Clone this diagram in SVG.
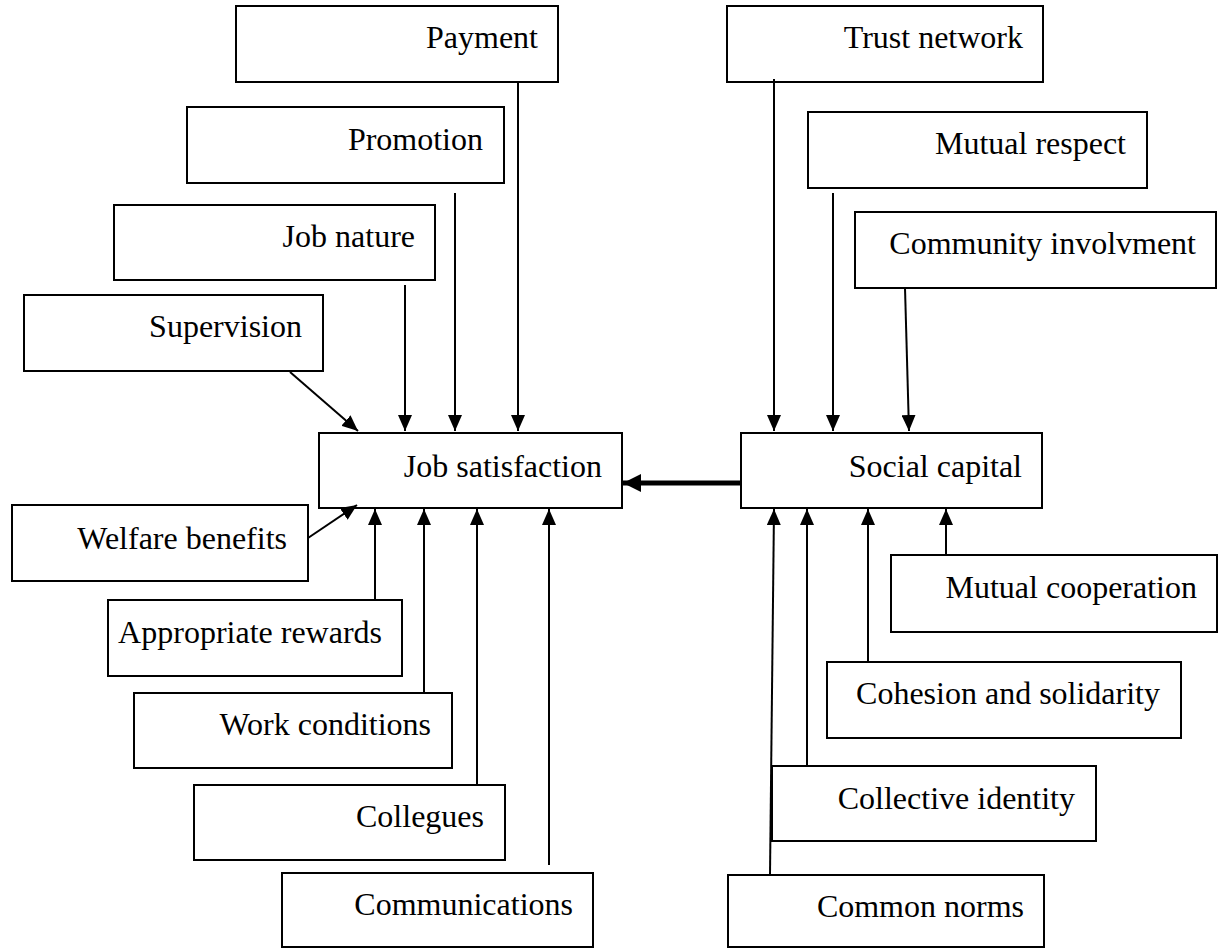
<svg xmlns="http://www.w3.org/2000/svg" width="1218" height="948" viewBox="0 0 1218 948">
<style>
rect.box{fill:#fff;stroke:#000;stroke-width:2}
text{font-family:"Liberation Serif","Times New Roman",serif;font-size:32px;fill:#000;text-anchor:end}
.c line{stroke:#000;stroke-width:2;marker-end:url(#ah)}
.c line.thick{stroke-width:5;marker-end:url(#ahb)}
</style>
<defs>
<marker id="ah" markerUnits="userSpaceOnUse" markerWidth="16" markerHeight="14" refX="16" refY="7" orient="auto"><path d="M0,0 L16,7 L0,14 z" fill="#000"/></marker>
<marker id="ahb" markerUnits="userSpaceOnUse" markerWidth="18" markerHeight="18" refX="18" refY="9" orient="auto"><path d="M0,0 L18,9 L0,18 z" fill="#000"/></marker>
</defs>
<rect width="1218" height="948" fill="#fff"/>
<g id="payment"><rect class="box" x="236" y="6" width="322" height="76"/><text x="538" y="48">Payment</text></g>
<g id="promotion"><rect class="box" x="187" y="107" width="317" height="76"/><text x="483" y="150">Promotion</text></g>
<g id="job-nature"><rect class="box" x="114" y="205" width="321" height="75"/><text x="415" y="247">Job nature</text></g>
<g id="supervision"><rect class="box" x="24" y="295" width="299" height="76"/><text x="302" y="337">Supervision</text></g>
<g id="job-satisfaction"><rect class="box" x="319" y="433" width="303" height="75"/><text x="602" y="477">Job satisfaction</text></g>
<g id="welfare-benefits"><rect class="box" x="12" y="505" width="296" height="76"/><text x="287" y="549">Welfare benefits</text></g>
<g id="appropriate-rewards"><rect class="box" x="108" y="600" width="294" height="76"/><text x="382" y="643">Appropriate rewards</text></g>
<g id="work-conditions"><rect class="box" x="134" y="693" width="318" height="75"/><text x="431" y="735">Work conditions</text></g>
<g id="collegues"><rect class="box" x="194" y="785" width="311" height="75"/><text x="484" y="827">Collegues</text></g>
<g id="communications"><rect class="box" x="282" y="873" width="311" height="74"/><text x="573" y="915">Communications</text></g>
<g id="trust-network"><rect class="box" x="727" y="6" width="316" height="76"/><text x="1023" y="48">Trust network</text></g>
<g id="mutual-respect"><rect class="box" x="808" y="112" width="339" height="76"/><text x="1126" y="154">Mutual respect</text></g>
<g id="community-involvment"><rect class="box" x="855" y="212" width="361" height="76"/><text x="1196" y="254">Community involvment</text></g>
<g id="social-capital"><rect class="box" x="741" y="433" width="301" height="75"/><text x="1022" y="477">Social capital</text></g>
<g id="mutual-cooperation"><rect class="box" x="891" y="555" width="326" height="77"/><text x="1197" y="598">Mutual cooperation</text></g>
<g id="cohesion-and-solidarity"><rect class="box" x="827" y="662" width="354" height="76"/><text x="1160" y="704">Cohesion and solidarity</text></g>
<g id="collective-identity"><rect class="box" x="772" y="766" width="324" height="75"/><text x="1075" y="809">Collective identity</text></g>
<g id="common-norms"><rect class="box" x="728" y="875" width="316" height="72"/><text x="1024" y="917">Common norms</text></g>
<g id="connectors" class="c">
<line x1="518" y1="82" x2="518" y2="431"/>
<line x1="455" y1="193" x2="455" y2="431"/>
<line x1="405" y1="285" x2="405" y2="431"/>
<line x1="290" y1="372" x2="358" y2="431"/>
<line x1="308" y1="538" x2="357" y2="505"/>
<line x1="375" y1="600" x2="375" y2="509"/>
<line x1="424" y1="693" x2="424" y2="509"/>
<line x1="477" y1="785" x2="477" y2="509"/>
<line x1="549" y1="865" x2="549" y2="509"/>
<line class="thick" x1="741" y1="483" x2="623" y2="483"/>
<line x1="774" y1="79" x2="774" y2="431"/>
<line x1="833" y1="193" x2="833" y2="431"/>
<line x1="905" y1="288" x2="909" y2="431"/>
<line x1="946" y1="555" x2="946" y2="509"/>
<line x1="868" y1="662" x2="868" y2="509"/>
<line x1="807" y1="766" x2="807" y2="509"/>
<line x1="770" y1="875" x2="774" y2="509"/>
</g>
</svg>
